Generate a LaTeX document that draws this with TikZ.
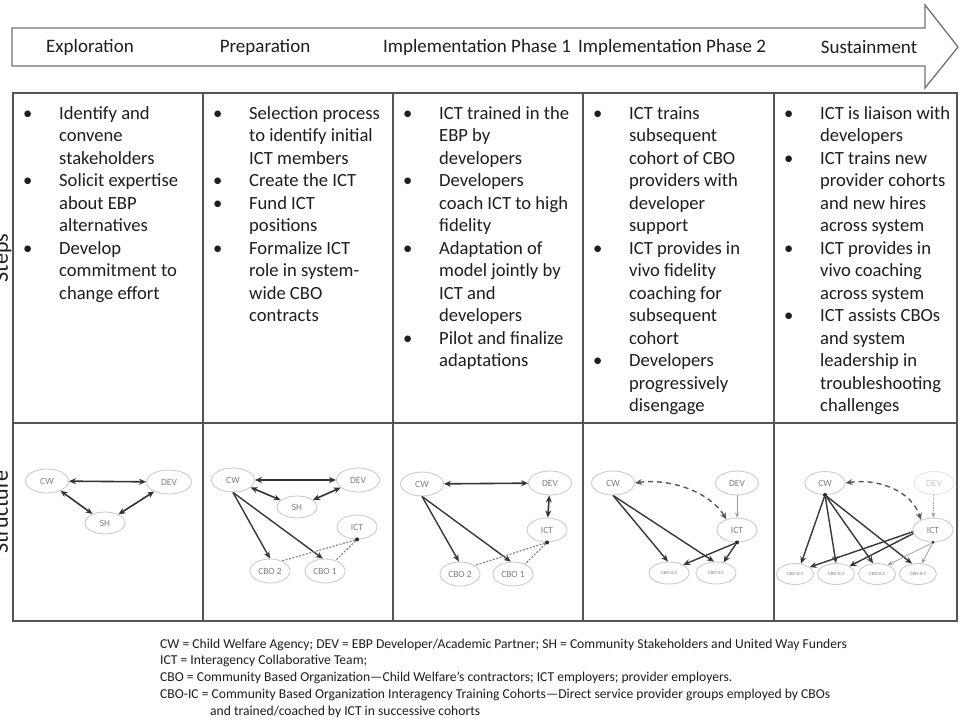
\documentclass[tikz,border=0pt]{standalone}
\usepackage{fontspec}
\setmainfont{Carlito}
\usetikzlibrary{shapes.geometric,arrows.meta}
\newcommand{\stepbul}{\makebox[36pt][l]{\textbullet}}
\newcommand{\stepind}{\hspace*{36pt}}
\definecolor{tblc}{HTML}{555555}
\definecolor{txtc}{HTML}{1E1E1E}
\begin{document}
\begin{tikzpicture}[x=1pt,y=-1pt,
  tbl/.style={draw=tblc,line width=1.6pt},
  phase/.style={font=\fontsize{19}{21}\selectfont,text=txtc,inner sep=0pt},
  cell/.style={anchor=north west,align=left,inner sep=0pt,text=txtc,font=\fontsize{18.6}{22.5}\selectfont},
  side/.style={rotate=90,anchor=base,inner sep=0pt,text=txtc,font=\fontsize{22}{24}\selectfont},
  ent/.style={ellipse,draw=black!20,line width=0.9pt,text=black!50,font=\fontsize{9.5}{11}\selectfont,minimum width=43pt,minimum height=24pt,inner sep=0pt},
  ents/.style={ent,font=\fontsize{4.8}{5}\selectfont,minimum width=40pt,minimum height=22pt},
  biarr/.style={{Stealth[length=7pt,width=6pt]}-{Stealth[length=7pt,width=6pt]},line width=1.6pt,draw=black!80},
  arr/.style={-{Stealth[length=7pt,width=6pt]},line width=1.4pt,draw=black!78},
  thinarr/.style={-{Stealth[length=5pt,width=4pt]},line width=0.7pt,draw=black!40},
  dotl/.style={line width=1.1pt,draw=black!50,dash pattern=on 2pt off 1.5pt},
  dashbi/.style={{Stealth[length=7pt,width=6pt]}-{Stealth[length=7pt,width=6pt]},line width=1.4pt,draw=black!65,dash pattern=on 5pt off 4pt},
  pt/.style={fill=black!85,circle,inner sep=0pt,minimum size=4pt},
  leg/.style={anchor=base west,inner sep=0pt,text=txtc,font=\fontsize{13.6}{15}\selectfont}
]
\useasboundingbox[fill=white] (0,0) rectangle (960,717);

% header arrow
\draw[draw=black!55,line width=1.3pt,fill=white] (12,28) -- (925,28) -- (925,5) -- (958,47) -- (925,88) -- (925,66) -- (12,66) -- cycle;
\node[phase] (h1) at (90,47) {Exploration};
\node[phase] (h2) at (265,47) {Preparation};
\node[phase] (h3) at (477,47) {Implementation Phase 1};
\node[phase] (h4) at (672,47) {Implementation Phase 2};
\node[phase] (h5) at (869,47) {Sustainment};

% table
\draw[tbl] (13,93) rectangle (957,621);
\draw[tbl] (13,423) -- (957,423);
\foreach \xx in {203,393,583,774} \draw[tbl] (\xx,93) -- (\xx,621);

\node[side] (lsteps) at (8,258) {Steps};
\node[side] (lstruct) at (8,512) {Structure};

% steps
\node[cell] (c1) at (23,103.5) {\strut\stepbul Identify and\\ \stepind convene\\ \stepind stakeholders\\ \stepbul Solicit expertise\\ \stepind about EBP\\ \stepind alternatives\\ \stepbul Develop\\ \stepind commitment to\\ \stepind change effort};
\node[cell] (c2) at (213,103.5) {\strut\stepbul Selection process\\ \stepind to identify initial\\ \stepind ICT members\\ \stepbul Create the ICT\\ \stepbul Fund ICT\\ \stepind positions\\ \stepbul Formalize ICT\\ \stepind role in system-\\ \stepind wide CBO\\ \stepind contracts};
\node[cell] (c3) at (403,103.5) {\strut\stepbul ICT trained in the\\ \stepind EBP by\\ \stepind developers\\ \stepbul Developers\\ \stepind coach ICT to high\\ \stepind fidelity\\ \stepbul Adaptation of\\ \stepind model jointly by\\ \stepind ICT and\\ \stepind developers\\ \stepbul Pilot and finalize\\ \stepind adaptations};
\node[cell] (c4) at (593,103.5) {\strut\stepbul ICT trains\\ \stepind subsequent\\ \stepind cohort of CBO\\ \stepind providers with\\ \stepind developer\\ \stepind support\\ \stepbul ICT provides in\\ \stepind vivo fidelity\\ \stepind coaching for\\ \stepind subsequent\\ \stepind cohort\\ \stepbul Developers\\ \stepind progressively\\ \stepind disengage};
\node[cell] (c5) at (784,103.5) {\strut\stepbul ICT is liaison with\\ \stepind developers\\ \stepbul ICT trains new\\ \stepind provider cohorts\\ \stepind and new hires\\ \stepind across system\\ \stepbul ICT provides in\\ \stepind vivo coaching\\ \stepind across system\\ \stepbul ICT assists CBOs\\ \stepind and system\\ \stepind leadership in\\ \stepind troubleshooting\\ \stepind challenges};

% panel 1
\node[ent] (cw1) at (47,481) {CW};
\node[ent,minimum width=45pt] (dev1) at (169,482) {DEV};
\node[ent,minimum width=40pt,minimum height=22pt] (sh1) at (105,523) {SH};
\draw[biarr] (cw1) -- (dev1);
\draw[biarr] (cw1) -- (sh1);
\draw[biarr] (sh1) -- (dev1);

% panel 2
\node[ent] (cw2) at (233,480) {CW};
\node[ent] (dev2) at (358,480) {DEV};
\node[ent,minimum width=40pt,minimum height=22pt] (sh2) at (297,507) {SH};
\node[ent,minimum width=40pt] (ict2) at (357,527) {ICT};
\node[ent,minimum width=40pt] (cbo2b) at (270,571) {CBO 2};
\node[ent,minimum width=40pt] (cbo2a) at (325,571) {CBO 1};
\draw[biarr] (cw2) -- (dev2);
\draw[biarr] (cw2) -- (sh2);
\draw[biarr] (sh2) -- (dev2);
\draw[arr] (cw2.south) -- (cbo2b.north);
\draw[arr] (cw2.south) -- (cbo2a.100);
\node[pt] (d2) at (ict2.south) {};
\draw[dotl] (d2) -- (cbo2b.40);
\draw[dotl] (d2) -- (cbo2a.45);

% panel 3
\node[ent] (cw3) at (422,484) {CW};
\node[ent] (dev3) at (550,483) {DEV};
\node[ent,minimum width=40pt] (ict3) at (547,530) {ICT};
\node[ent,minimum width=40pt] (cbo3b) at (460,574) {CBO 2};
\node[ent,minimum width=40pt] (cbo3a) at (513,574) {CBO 1};
\draw[biarr] (cw3) -- (dev3);
\draw[biarr] (dev3) -- (ict3);
\draw[arr] (cw3.south) -- (cbo3b.95);
\draw[arr] (cw3.south) -- (cbo3a.100);
\node[pt] (d3) at (ict3.south) {};
\draw[dotl] (d3) -- (cbo3b.30);
\draw[dotl] (d3) -- (cbo3a.40);

% panel 4
\node[ent] (cw4) at (613,483) {CW};
\node[ent] (dev4) at (737,483) {DEV};
\node[ent,minimum width=40pt] (ict4) at (737,530) {ICT};
\node[ents] (ic4b) at (669,573) {CBO-IC2};
\node[ents] (ic4a) at (716,573) {CBO-IC1};
\draw[dashbi] (cw4.east) .. controls (670,478) and (710,492) .. (ict4.135);
\draw[thinarr] (dev4) -- (ict4);
\draw[arr] (cw4.south) -- (ic4b.95);
\draw[arr] (cw4.south) -- (ic4a.100);
\node[pt] (d4) at (ict4.south) {};
\draw[arr] (d4) -- (ic4b.30);
\draw[arr] (d4) -- (ic4a.55);

% panel 5
\node[ent,minimum width=40pt,minimum height=23pt] (cw5) at (825,483) {CW};
\node[ent,minimum width=40pt,minimum height=23pt,draw=black!10,text=black!20] (dev5) at (934,483) {DEV};
\node[ent,minimum width=40pt] (ict5) at (933,530) {ICT};
\node[ents,minimum width=37pt,minimum height=21pt] (k4) at (795,574) {CBO-IC4};
\node[ents,minimum width=37pt,minimum height=21pt] (k3) at (836,574) {CBO-IC3};
\node[ents,minimum width=37pt,minimum height=21pt] (k2) at (877,574) {CBO-IC2};
\node[ents,minimum width=37pt,minimum height=21pt] (k1) at (918,574) {CBO-IC1};
\draw[dashbi] (cw5.east) .. controls (880,478) and (912,492) .. (ict5.140);
\draw[thinarr,dash pattern=on 1.5pt off 1pt] (dev5) -- (ict5);
\node[pt] (e5) at (cw5.south) {};
\draw[arr] (e5) -- (k4.60);
\draw[arr] (e5) -- (k3.90);
\draw[arr] (e5) -- (k2.110);
\draw[arr] (e5) -- (k1.120);
\draw[arr] (ict5.185) -- (k4.25);
\draw[arr] (ict5.190) -- (k3.30);
\node[pt,minimum size=3pt] (d5) at (ict5.south) {};
\draw[thinarr] (d5) -- (k2.40);
\draw[thinarr] (d5) -- (k1.70);

% legend
\node[leg] (l1) at (160,648) {CW = Child Welfare Agency; DEV = EBP Developer/Academic Partner; SH = Community Stakeholders and United Way Funders};
\node[leg] (l2) at (160,664.5) {ICT = Interagency Collaborative Team;};
\node[leg] (l3) at (160,681) {CBO = Community Based Organization—Child Welfare’s contractors; ICT employers; provider employers.};
\node[leg] (l4) at (160,698) {CBO-IC = Community Based Organization Interagency Training Cohorts—Direct service provider groups employed by CBOs};
\node[leg] (l5) at (210,715) {and trained/coached by ICT in successive cohorts};
\end{tikzpicture}
\end{document}
